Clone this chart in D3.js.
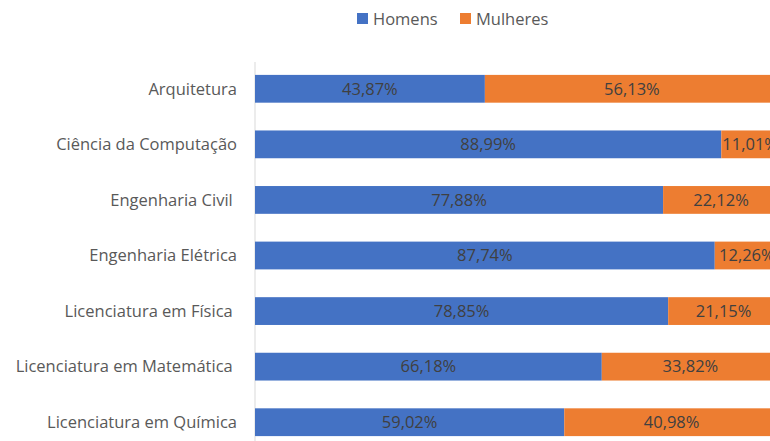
<!DOCTYPE html>
<html>
<head>
<meta charset="utf-8">
<script src="https://cdn.jsdelivr.net/npm/d3@7"></script>
<style>
  body { margin: 0; background: #fff; }
  svg { font-family: "Open Sans", "Noto Sans", sans-serif; }
</style>
</head>
<body>
<div class="chart"></div>
<script>
var svgWidth = 770;
var svgHeight = 441;

// data
var cursos = [
  "Arquitetura",
  "Ciência da Computação",
  "Engenharia Civil ",
  "Engenharia Elétrica",
  "Licenciatura em Física ",
  "Licenciatura em Matemática ",
  "Licenciatura em Química"
];
var homens = [43.87, 88.99, 77.88, 87.74, 78.85, 66.18, 59.02];
var mulheres = [56.13, 11.01, 22.12, 12.26, 21.15, 33.82, 40.98];
var series = ["Homens", "Mulheres"];
var colors = ["#4472C4", "#ED7D31"];

var svg = d3.select(".chart")
  .append("svg")
  .attr("width", svgWidth)
  .attr("height", svgHeight);

var xScale = d3.scaleLinear()
  .domain([0, 100])
  .range([255, 779]);

var yScale = d3.scaleBand()
  .domain(cursos)
  .range([61, 450])
  .paddingInner(0.5)
  .paddingOuter(0.25);

var fmt = function(v) { return v.toFixed(2).replace(".", ",") + "%"; };

var rows = cursos.map(function(c, i) {
  return { curso: c, vals: [homens[i], mulheres[i]] };
});

// category axis line
svg.append("line")
  .attr("x1", xScale(0)).attr("x2", xScale(0))
  .attr("y1", 62).attr("y2", svgHeight)
  .attr("stroke", "#d9d9d9")
  .attr("stroke-width", 1);

// category labels
svg.append("g")
  .selectAll("text")
  .data(cursos)
  .enter()
  .append("text")
  .attr("x", 237)
  .attr("y", d => yScale(d) + yScale.bandwidth() / 2)
  .attr("dy", "0.35em")
  .attr("text-anchor", "end")
  .style("white-space", "pre")
  .attr("font-size", "16.5px")
  .attr("fill", "#595959")
  .text(d => d);

// bars
rows.forEach(function(r) {
  var x0 = 0;
  r.vals.forEach(function(v, j) {
    var g = svg.append("g");
    g.append("rect")
      .attr("x", xScale(x0))
      .attr("y", yScale(r.curso))
      .attr("width", xScale(x0 + v) - xScale(x0))
      .attr("height", yScale.bandwidth())
      .attr("fill", colors[j]);
    g.append("text")
      .attr("x", (xScale(x0) + xScale(x0 + v)) / 2)
      .attr("y", yScale(r.curso) + yScale.bandwidth() / 2)
      .attr("dy", "0.35em")
      .attr("text-anchor", "middle")
      .attr("font-size", "16.5px")
      .attr("fill", "#404040")
      .text(fmt(v));
    x0 += v;
  });
});

// legend
var legendX = [357, 460];
var legend = svg.append("g");
series.forEach(function(s, i) {
  legend.append("rect")
    .attr("x", legendX[i])
    .attr("y", 13)
    .attr("width", 11)
    .attr("height", 11)
    .attr("fill", colors[i]);
  legend.append("text")
    .attr("x", legendX[i] + 16)
    .attr("y", 19)
    .attr("dy", "0.35em")
    .attr("font-size", "16.5px")
    .attr("fill", "#595959")
    .text(s);
});
</script>
</body>
</html>
